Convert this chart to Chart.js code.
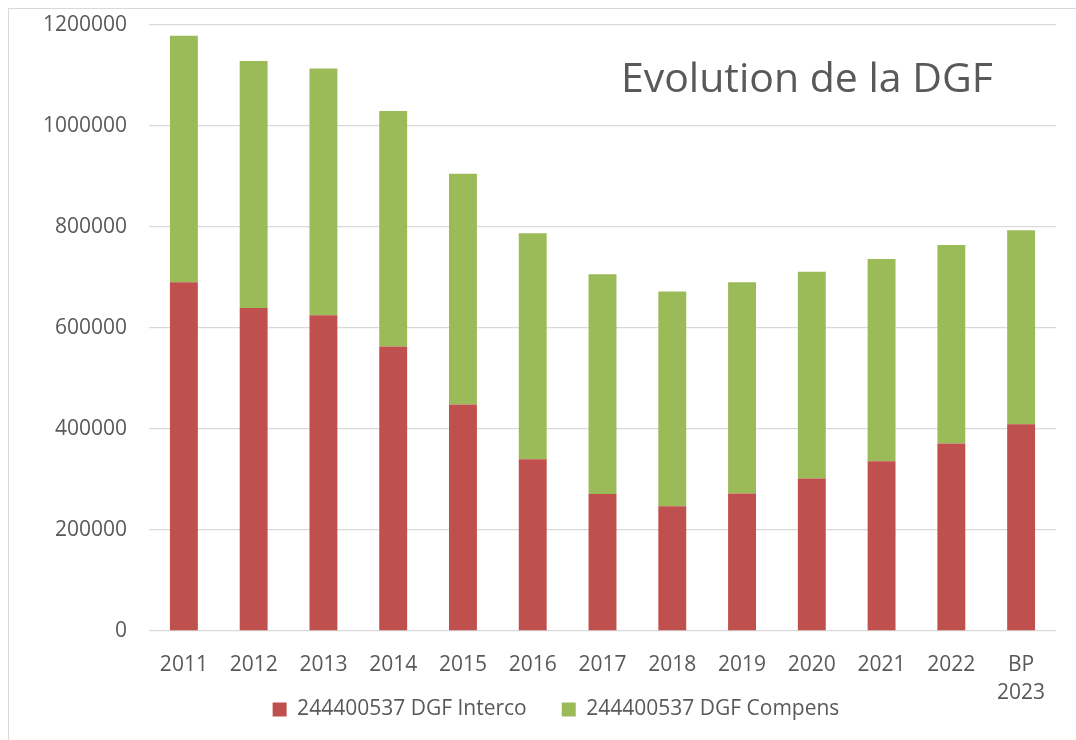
<!DOCTYPE html>
<html>
<head>
<meta charset="utf-8">
<script src="https://cdn.jsdelivr.net/npm/chart.js@4.4.0/dist/chart.umd.min.js"></script>
<style>
  html, body { margin: 0; padding: 0; background: #fff; overflow: hidden; width: 1076px; height: 740px; position: relative; }
  #frame { position: absolute; left: 8px; top: 8px; border-left: 1px solid #d9d9d9; border-top: 1px solid #d9d9d9; width: 1100px; height: 760px; }
  #dgf { position: absolute; left: 9px; top: -10px; display: block; }
</style>
</head>
<body>
<div id="frame"></div>
<canvas id="dgf" width="1094" height="740"></canvas>
<script>
const years = ['2011','2012','2013','2014','2015','2016','2017','2018','2019','2020','2021','2022',['BP','2023']];
const interco = [690000,639000,625000,563000,448000,340000,271000,247000,272000,302000,336000,371000,409000];
const compens = [488000,489000,488000,466000,457000,447000,435000,425000,418000,409000,400000,393000,384000];
const yTicks = [0,200000,400000,600000,800000,1000000,1200000];

const grey = '#595959';
const font = '"Open Sans"';

// titre place dans la zone de tracé, en haut a droite
const titlePlugin = {
    id: 'insideTitle',
    afterDraw(chart) {
        const ctx = chart.ctx;
        ctx.save();
        ctx.font = '41px ' + font;
        ctx.fillStyle = grey;
        ctx.textAlign = 'right';
        ctx.textBaseline = 'alphabetic';
        ctx.fillText('Evolution de la DGF', chart.chartArea.right - 63, chart.chartArea.top + 67);
        ctx.restore();
    }
};

const ctx = document.getElementById('dgf').getContext('2d');
new Chart(ctx, {
    type: 'bar',
    data: {
        labels: years,
        datasets: [{
            label: '244400537 DGF Interco',
            data: interco,
            backgroundColor: '#C0504D',
            categoryPercentage: 1,
            barPercentage: 0.4
        }, {
            label: '244400537 DGF Compens',
            data: compens,
            backgroundColor: '#9BBB59',
            categoryPercentage: 1,
            barPercentage: 0.4
        }]
    },
    options: {
        responsive: false,
        animation: false,
        devicePixelRatio: 1,
        layout: { padding: 0 },
        scales: {
            x: {
                stacked: true,
                grid: { display: false },
                border: { display: false },
                ticks: { color: grey, font: { family: font, size: 21, lineHeight: 1.33 }, padding: 12, maxRotation: 0, autoSkip: false },
                afterFit(scale) { scale.height = 68; }
            },
            y: {
                stacked: true,
                min: 0,
                max: 1200000,
                afterBuildTicks(scale) { scale.ticks = yTicks.map(v => ({ value: v })); },
                grid: { color: '#d9d9d9', lineWidth: 1.3, drawTicks: false },
                border: { display: false },
                ticks: { color: grey, font: { family: font, size: 21 }, padding: 22, callback: v => String(v) },
                afterFit(scale) { scale.width = 140; }
            },
            // axe vide a droite, juste pour garder la marge de la légende
            yRight: {
                position: 'right',
                display: true,
                grid: { display: false },
                border: { display: false },
                ticks: { display: false },
                afterFit(scale) { scale.width = 47; }
            }
        },
        plugins: {
            legend: {
                position: 'bottom',
                maxHeight: 33,
                labels: {
                    color: grey,
                    font: { family: font, size: 21 },
                    boxWidth: 14,
                    boxHeight: 14,
                    padding: 0,
                    generateLabels(chart) {
                        const items = Chart.defaults.plugins.legend.labels.generateLabels(chart);
                        items[0].text += '\u2003\u2002\u2009';
                        return items;
                    }
                }
            },
            tooltip: { enabled: false }
        }
    },
    plugins: [titlePlugin]
});
</script>
</body>
</html>
